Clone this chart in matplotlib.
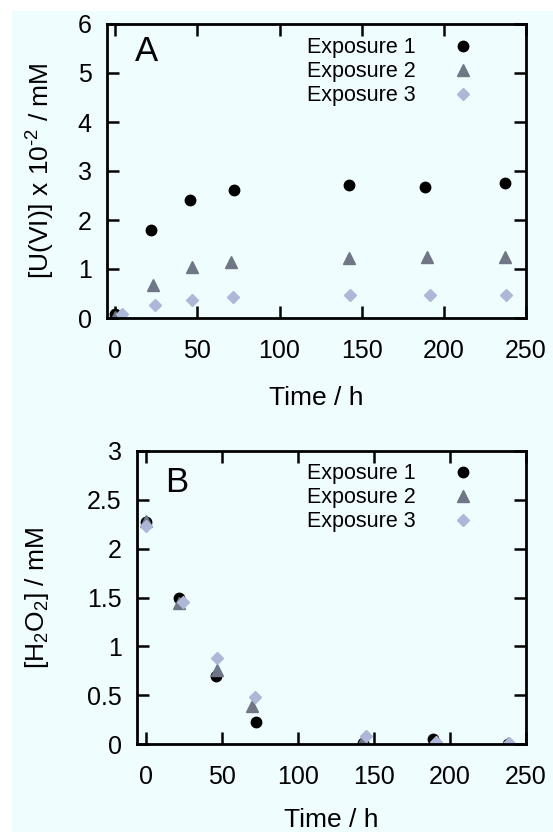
import matplotlib
matplotlib.use('Agg')
import matplotlib.pyplot as plt
from matplotlib.patches import Rectangle
from matplotlib.ticker import FuncFormatter

plt.rcParams['font.family'] = ['Liberation Sans', 'DejaVu Sans']
plt.rcParams['mathtext.fontset'] = 'custom'
plt.rcParams['mathtext.rm'] = 'Liberation Sans'
plt.rcParams['mathtext.it'] = 'Liberation Sans:italic'

# Panel A: U(VI) release (x 10^-2 mM)
uTime1 = [0, 22, 45.5, 72.5, 142.5, 188.5, 237.5]
uExp1 = [0.08, 1.80, 2.41, 2.61, 2.71, 2.68, 2.76]
uTime2 = [0, 23, 46.5, 70.5, 142.5, 189.5, 237.5]
uExp2 = [0.03, 0.67, 1.05, 1.15, 1.22, 1.24, 1.25]
uTime3 = [4, 24, 47, 71.5, 143, 191.5, 238]
uExp3 = [0.08, 0.27, 0.37, 0.42, 0.47, 0.47, 0.47]

# Panel B: H2O2 consumption (mM)
hTime1 = [0, 21.5, 46, 72.5, 142.5, 188.5, 238]
hExp1 = [2.27, 1.49, 0.70, 0.23, 0.01, 0.05, 0.00]
hTime2 = [0, 21.5, 46.5, 70, 143, 191, 238]
hExp2 = [2.28, 1.44, 0.76, 0.39, 0.04, 0.02, 0.01]
hTime3 = [0, 24, 46.5, 71.5, 144.5, 191, 238.5]
hExp3 = [2.23, 1.45, 0.88, 0.48, 0.08, 0.02, 0.01]

labels = ['Exposure 1', 'Exposure 2', 'Exposure 3']
colors = ['black', '#6f7686', '#adb7d7']
markers = ['o', '^', 'D']
sizes = [7.5, 8, 6]

W, H = 553, 832
fig = plt.figure(figsize=(W / 100, H / 100), dpi=100)
fig.patch.set_facecolor('white')
bg = '#effdff'
fig.patches.append(Rectangle((12 / W, 0), 1, 1 - 11 / H, transform=fig.transFigure,
                             facecolor=bg, edgecolor='none', zorder=-10))


def px_axes(left, top, right, bottom):
    return fig.add_axes([left / W, 1 - bottom / H, (right - left) / W, (bottom - top) / H])


def style_axes(ax):
    ax.set_facecolor(bg)
    for s in ax.spines.values():
        s.set_linewidth(2)
    ax.tick_params(direction='in', top=True, right=True, length=8.5, width=1.8,
                   labelsize=18)
    ax.tick_params(axis='y', pad=11)
    ax.tick_params(axis='x', pad=15)
    ax.set_xlim(-5, 250)
    ax.set_xticks([0, 50, 100, 150, 200, 250])
    ax.set_xlabel('Time / h', fontsize=19, labelpad=17)


axA = px_axes(107, 24, 526, 318)
style_axes(axA)
series = [(uTime1, uExp1), (uTime2, uExp2), (uTime3, uExp3)]
for (x, y), lab, c, m, ms in zip(series, labels, colors, markers, sizes):
    axA.plot(x, y, linestyle='none', marker=m, color=c, markersize=ms, label=lab)
axA.set_ylim(0, 6)
axA.set_yticks(range(0, 7))
axA.set_ylabel('[U(VI)] x 10$^{\\text{-2}}$ / mM', fontsize=19, labelpad=15)
axA.text(0.067, 0.905, 'A', transform=axA.transAxes, fontsize=25, va='center')
axA.legend(loc='upper right', bbox_to_anchor=(0.901, 0.955), frameon=False,
           markerfirst=False, fontsize=15.5, handlelength=2, handletextpad=1.2,
           labelspacing=0.14, borderpad=0, borderaxespad=0)

axB = px_axes(137, 451, 526, 744)
style_axes(axB)
axB.set_xlim(-6, 250)
axB.set_xlabel('Time / h', fontsize=19, labelpad=14)
series = [(hTime1, hExp1), (hTime2, hExp2), (hTime3, hExp3)]
for (x, y), lab, c, m, ms in zip(series, labels, colors, markers, sizes):
    axB.plot(x, y, linestyle='none', marker=m, color=c, markersize=ms, label=lab)
axB.set_ylim(0, 3)
axB.set_yticks([0, 0.5, 1, 1.5, 2, 2.5, 3])
axB.yaxis.set_major_formatter(FuncFormatter(lambda v, p: '%g' % v))
axB.set_ylabel('[H$_2$O$_2$] / mM', fontsize=19, labelpad=26)
axB.text(0.072, 0.894, 'B', transform=axB.transAxes, fontsize=25, va='center')
axB.legend(loc='upper right', bbox_to_anchor=(0.893, 0.958), frameon=False,
           markerfirst=False, fontsize=15.5, handlelength=2, handletextpad=1.2,
           labelspacing=0.14, borderpad=0, borderaxespad=0)

fig.savefig('out.png', dpi=100, facecolor=fig.get_facecolor())
